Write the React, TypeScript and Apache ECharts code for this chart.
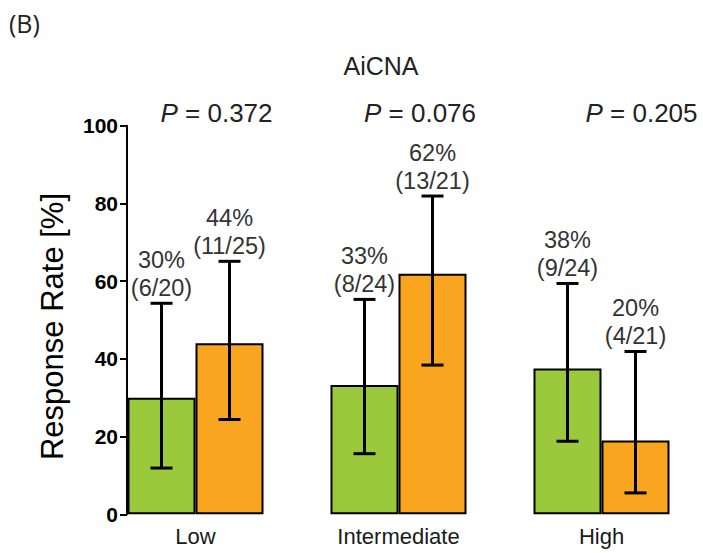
import React, { useEffect, useRef } from "react";
import * as echarts from "echarts";

const categories = ["Low", "Intermediate", "High"];
const greenRate = [30, 33.3, 37.5];
const orangeRate = [44, 61.9, 19.0];
const greenCiLow = [11.9, 15.6, 18.8];
const greenCiHigh = [54.3, 55.3, 59.4];
const orangeCiLow = [24.4, 38.4, 5.5];
const orangeCiHigh = [65.1, 81.9, 41.9];
const greenLabels = ["30%\n(6/20)", "33%\n(8/24)", "38%\n(9/24)"];
const orangeLabels = ["44%\n(11/25)", "62%\n(13/21)", "20%\n(4/21)"];
const pValues = ["0.372", "0.076", "0.205"];
const pValueX = [216.5, 420, 641.5];

const GREEN = "#9BC93C";
const ORANGE = "#F9A51F";
const GAP = 0.33;
const FONT = "Liberation Sans, Arial, Helvetica, sans-serif";

function makeErrorRender(side: number, labels: string[]) {
  return (params: any, api: any) => {
    const cat = api.value(0);
    const lo = api.value(1);
    const hi = api.value(2);
    const c0 = api.coord([0, 0]);
    const c1 = api.coord([1, 0]);
    const band = Math.abs(c1[0] - c0[0]);
    const barW = (band * (1 - GAP)) / 2;
    const center = api.coord([cat, 0]);
    const x = center[0] + (side * barW) / 2;
    const yLo = api.coord([cat, lo])[1];
    const yHi = api.coord([cat, hi])[1];
    const capHalf = 11;
    const style = { stroke: "#000", lineWidth: 3 };
    return {
      type: "group",
      children: [
        { type: "line", shape: { x1: x, y1: yLo, x2: x, y2: yHi }, style },
        { type: "line", shape: { x1: x - capHalf, y1: yHi, x2: x + capHalf, y2: yHi }, style },
        { type: "line", shape: { x1: x - capHalf, y1: yLo, x2: x + capHalf, y2: yLo }, style },
        {
          type: "text",
          x,
          y: yHi - 1,
          style: {
            text: labels[params.dataIndex],
            align: "center",
            verticalAlign: "bottom",
            fontSize: 23.5,
            lineHeight: 28,
            fontFamily: FONT,
            fill: "#333",
          },
        },
      ],
    };
  };
}

export default function App() {
  const ref = useRef<HTMLDivElement>(null);
  useEffect(() => {
    if (!ref.current) return;
    const chart = echarts.init(ref.current, undefined, { renderer: "svg" });
    const pTexts = pValues.map((p, i) => ({
      type: "text",
      x: pValueX[i],
      y: 112.5,
      style: {
        text: "{i|P} = " + p,
        align: "center",
        verticalAlign: "middle",
        fontSize: 26,
        fontFamily: FONT,
        fill: "#222",
        rich: {
          i: { fontStyle: "italic", fontSize: 26, fontFamily: FONT, fill: "#222" },
        },
      },
    }));
    chart.setOption({
      animation: false,
      backgroundColor: "#fff",
      grid: { left: 94, right: -1, top: 125.7, bottom: 38.7, containLabel: false },
      xAxis: {
        type: "category",
        data: categories,
        axisLine: { show: false },
        axisTick: { show: false },
        axisLabel: { fontSize: 22, color: "#1a1a1a", fontFamily: FONT, margin: 11 },
      },
      yAxis: {
        type: "value",
        min: 0,
        max: 100,
        interval: 20,
        offset: -33,
        name: "Response Rate [%]",
        nameLocation: "middle",
        nameRotate: 90,
        nameGap: 59,
        nameTextStyle: { fontSize: 31, color: "#000", fontFamily: FONT, padding: [0, 13, 0, 0] },
        splitLine: { show: false },
        axisLine: { show: true, lineStyle: { color: "#000", width: 2 } },
        axisTick: { show: true, length: 7, lineStyle: { color: "#000", width: 2 } },
        axisLabel: { fontSize: 21, fontWeight: "bold", color: "#000", fontFamily: FONT, margin: 9 },
      },
      graphic: [
        {
          type: "text",
          x: 9,
          y: 10,
          style: { text: "(B)", fontSize: 25, fontFamily: "Open Sans, Noto Sans, sans-serif", fill: "#222" },
        },
        {
          type: "text",
          x: 381,
          y: 66,
          style: { text: "AiCNA", align: "center", verticalAlign: "middle", fontSize: 25, fontFamily: FONT, fill: "#222" },
        },
        ...pTexts,
      ],
      series: [
        {
          type: "bar",
          data: greenRate,
          barGap: "0%",
          barCategoryGap: "33%",
          itemStyle: { color: GREEN, borderColor: "#000", borderWidth: 2 },
        },
        {
          type: "bar",
          data: orangeRate,
          barGap: "0%",
          barCategoryGap: "33%",
          itemStyle: { color: ORANGE, borderColor: "#000", borderWidth: 2 },
        },
        {
          type: "custom",
          renderItem: makeErrorRender(-1, greenLabels),
          data: categories.map((_, i) => [i, greenCiLow[i], greenCiHigh[i]]),
          encode: { x: 0, y: [1, 2] },
          z: 5,
        },
        {
          type: "custom",
          renderItem: makeErrorRender(1, orangeLabels),
          data: categories.map((_, i) => [i, orangeCiLow[i], orangeCiHigh[i]]),
          encode: { x: 0, y: [1, 2] },
          z: 5,
        },
      ],
    });
    return () => chart.dispose();
  }, []);
  return <div ref={ref} style={{ width: 703, height: 553, position: "absolute", left: 0, top: 0 }} />;
}
